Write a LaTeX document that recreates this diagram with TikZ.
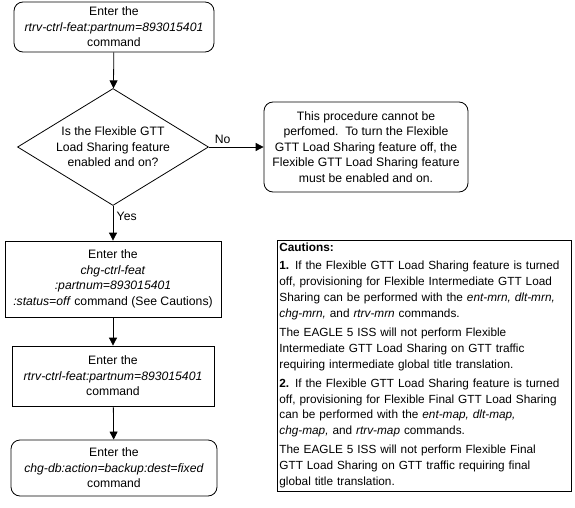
\documentclass[tikz,border=0pt]{standalone}
\usepackage{fontspec}
\setmainfont{Liberation Sans}
\usetikzlibrary{shapes.geometric,arrows.meta}

\tikzset{
  stepbox/.style={draw,align=center,inner sep=0pt},
  roundbox/.style={stepbox,rounded corners=9pt},
  decision/.style={draw,diamond,inner sep=0pt,minimum width=191pt,minimum height=117pt},
  flow/.style={-{Triangle[length=8pt,width=8pt]}}
}

\begin{document}
\begin{tikzpicture}[x=1pt,y=-1pt,line width=0.8pt,font=\fontsize{12.2}{15.6}\selectfont]
\useasboundingbox (0,0) rectangle (575,508);

\node[roundbox,minimum width=200pt,minimum height=50pt] (rtrv1) at (114,27)
  {Enter the\\\textit{rtrv-ctrl-feat:partnum=893015401}\\command};

\node[decision,label={[align=center]center:Is the Flexible GTT\\Load Sharing feature\\enabled and on?}] (feat) at (113,147) {};

\node[roundbox,minimum width=204pt,minimum height=90pt] (stop) at (366,147)
  {This procedure cannot be\\perfomed.\ \ To turn the Flexible\\GTT Load Sharing feature off, the\\Flexible GTT Load Sharing feature\\must be enabled and on.};

\node[stepbox,minimum width=216pt,minimum height=76pt] (chg) at (113,279)
  {Enter the\\\textit{chg-ctrl-feat}\\\textit{:partnum=893015401}\\\textit{:status=off} command (See Cautions)};

\node[stepbox,minimum width=202pt,minimum height=60pt] (rtrv2) at (113,376)
  {Enter the\\\textit{rtrv-ctrl-feat:partnum=893015401}\\command};

\node[roundbox,minimum width=206pt,minimum height=56pt] (backup) at (114,468)
  {Enter the\\\textit{chg-db:action=backup:dest=fixed}\\command};

% cautions
\node[draw,anchor=north west,inner xsep=2pt,inner ysep=3pt,text width=290pt,align=left,
      font=\fontsize{11.8}{15.9}\selectfont] (caution) at (277,240)
  {\textbf{Cautions:}\\[2pt]
   \textbf{1.} If the Flexible GTT Load Sharing feature is turned\\
   off, provisioning for Flexible Intermediate GTT Load\\
   Sharing can be performed with the \textit{ent-mrn, dlt-mrn,}\\
   \textit{chg-mrn,} and \textit{rtrv-mrn} commands.\\[3pt]
   The EAGLE 5 ISS will not perform Flexible\\
   Intermediate GTT Load Sharing on GTT traffic\\
   requiring intermediate global title translation.\\[3pt]
   \textbf{2.} If the Flexible GTT Load Sharing feature is turned\\
   off, provisioning for Flexible Final GTT Load Sharing\\
   can be performed with the \textit{ent-map, dlt-map,}\\
   \textit{chg-map,} and \textit{rtrv-map} commands.\\[3pt]
   The EAGLE 5 ISS will not perform Flexible Final\\
   GTT Load Sharing on GTT traffic requiring final\\
   global title translation.};

\draw[flow] (rtrv1) -- (feat);
\draw[flow] (feat) -- node[pos=0.25,above] {No} (stop);
\draw[flow] (feat) -- node[pos=0.3,right] {Yes} (chg);
\draw[flow] (chg) -- (rtrv2);
\draw[flow] (rtrv2) -- (backup);
\end{tikzpicture}
\end{document}
